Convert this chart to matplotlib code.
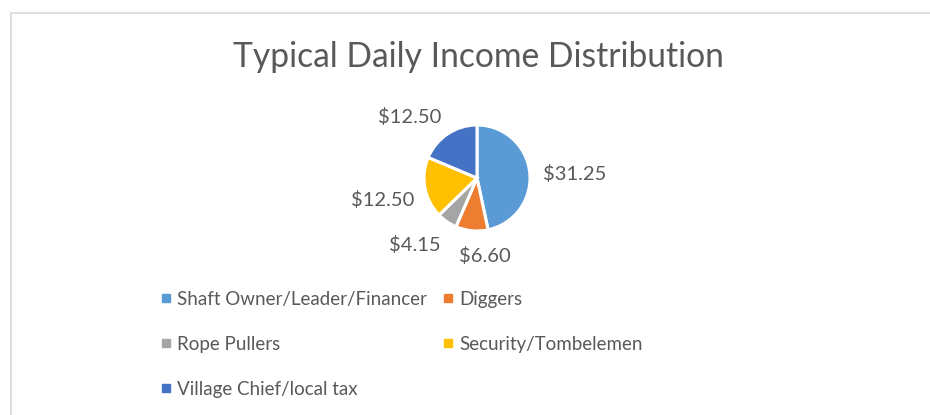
import numpy as np
import matplotlib
matplotlib.use('Agg')
from matplotlib import pyplot as plt
from matplotlib.lines import Line2D
from matplotlib.patches import Rectangle

# data
roles = ['Shaft Owner/Leader/Financer', 'Diggers', 'Rope Pullers',
         'Security/Tombelemen', 'Village Chief/local tax']
income = [31.25, 6.60, 4.15, 12.50, 12.50]
labels = ['$31.25', '$6.60', '$4.15', '$12.50', '$12.50']
colors = ['#5B9BD5', '#ED7D31', '#A5A5A5', '#FFC000', '#4472C4']

# label placement (radius multiples, angle nudge in degrees)
label_dist = [1.85, 1.48, 1.73, 1.82, 1.72]
label_nudge = [-3.8, 11.6, -8.5, 2.3, 14.4]

W, H = 930, 415
txt = '#595959'
plt.rcParams['font.family'] = ['Lato', 'DejaVu Sans']

fig = plt.figure(figsize=(W / 100, H / 100), dpi=100)
ax = fig.add_axes([0, 0, 1, 1])

# chart area border
ax.add_patch(Rectangle((10.5, -10), W + 20, H - 13.5 + 10, fill=False,
                       edgecolor='#D9D9D9', lw=1.2))

cx, cy, R = 477, H - 178, 53
wedges, _ = ax.pie(income, colors=colors, startangle=90, counterclock=False,
                   center=(cx, cy), radius=R, frame=True,
                   wedgeprops=dict(edgecolor='white', linewidth=2.2))
ax.set_xlim(0, W)
ax.set_ylim(0, H)
ax.set_aspect('equal')
ax.axis('off')

for w, lab, d, n in zip(wedges, labels, label_dist, label_nudge):
    mid = np.deg2rad((w.theta1 + w.theta2) / 2 + n)
    ax.text(cx + R * d * np.cos(mid), cy + R * d * np.sin(mid), lab,
            ha='center', va='center', fontsize=14.5, color=txt)

ax.text(478, H - 57, 'Typical Daily Income Distribution', ha='center',
        va='center', fontsize=24.2, color=txt)

# legend, row-major like Excel
order = [0, 2, 4, 1, 3]
handles = [Line2D([], [], ls='none', marker='s', markersize=5.5,
                  markerfacecolor=colors[i], markeredgecolor=colors[i])
           for i in order]
leg = ax.legend(handles, [roles[i] for i in order], ncol=2, loc='upper left',
                bbox_to_anchor=(160, H - 291), bbox_transform=ax.transData,
                frameon=False, fontsize=13.5, labelcolor=txt,
                handlelength=0.6, handletextpad=0.3, labelspacing=1.48,
                columnspacing=0.84, borderpad=0, borderaxespad=0)

fig.savefig('out.png', dpi=100)
